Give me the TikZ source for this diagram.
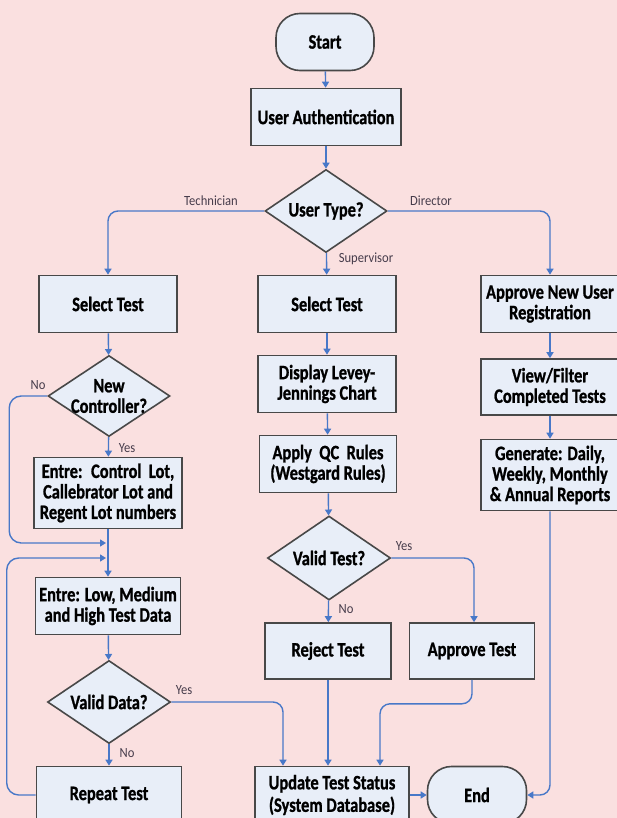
\documentclass[tikz,border=0pt]{standalone}
\usepackage{fontspec}
\usetikzlibrary{shapes.geometric,arrows.meta}
\newfontfamily\carlito[FakeStretch=0.8,BoldFeatures={FakeBold=1}]{Carlito}
\newfontfamily\carlitothin[FakeStretch=0.9]{Carlito}
\newcommand\bxfont{\carlito\bfseries\fontsize{20.5}{20.5}\selectfont}
\newcommand\lbfont{\carlitothin\fontsize{14}{16}\selectfont}
\definecolor{bgpink}{RGB}{250,224,224}
\definecolor{boxfill}{RGB}{232,238,248}
\definecolor{boxline}{RGB}{72,72,72}
\definecolor{flowblue}{RGB}{72,120,200}
\definecolor{lbltext}{RGB}{70,60,75}

\begin{document}
\begin{tikzpicture}[x=1pt,y=-1pt,
    box/.style={draw=boxline,fill=boxfill,line width=1.6pt,minimum width=138pt,minimum height=57pt,align=center,font=\bxfont,inner sep=2pt},
    term/.style={box,rounded corners=24pt,minimum width=98pt},
    dia/.style={diamond,draw=boxline,fill=boxfill,line width=1.6pt,minimum width=122pt,minimum height=83pt,inner sep=0pt},
    dtext/.style={font=\bxfont,align=center},
    flow/.style={draw=flowblue,line width=1.4pt,-{Triangle[length=6pt,width=7pt]},rounded corners=10pt},
    lbl/.style={font=\lbfont,text=lbltext,inner sep=1pt}]
    \useasboundingbox (0,0) rectangle (617,818);
    \fill[bgpink] (0,0) rectangle (617,818);

    \node (start) at (325,42) [term] {Start};
    \node (auth) at (326,117) [box,minimum width=150pt] {User Authentication};
    \node (utype) at (326,211) [dia,label={[dtext]center:User Type?}] {};
    \node (sel1) at (108,304) [box] {Select Test};
    \node (sel2) at (327,304) [box] {Select Test};
    \node (appr) at (550,304) [box] {Approve New User\\Registration};
    \node (newc) at (109,396) [dia,minimum height=81pt,label={[dtext]center:New\\Controller?}] {};
    \node (disp) at (327,384) [box] {Display Levey-\\Jennings Chart};
    \node (view) at (550,387) [box,minimum height=56pt] {View/Filter\\Completed Tests};
    \node (entc) at (108,493) [box,minimum width=148pt,minimum height=71pt] {Entre:~ Control~ Lot,\\Callebrator Lot and\\Regent Lot numbers};
    \node (qc) at (328,464) [box,minimum width=137pt] {Apply~ QC~ Rules\\(Westgard Rules)};
    \node (gen) at (550,475) [box,minimum height=71pt] {Generate: Daily,\\Weekly, Monthly\\\& Annual Reports};
    \node (vtest) at (329,558) [dia,minimum width=123pt,minimum height=84pt,label={[dtext]center:Valid Test?}] {};
    \node (entl) at (108,606) [box,minimum width=145pt] {Entre: Low, Medium\\and High Test Data};
    \node (rej) at (328,651) [box,minimum width=126pt,minimum height=56pt] {Reject Test};
    \node (apt) at (472,651) [box,minimum width=125pt,minimum height=56pt] {Approve Test};
    \node (vdata) at (109,702) [dia,minimum width=123pt,label={[dtext]center:Valid Data?}] {};
    \node (rep) at (109,795) [box,minimum width=145pt] {Repeat Test};
    \node (upd) at (332,795) [box,minimum width=154pt] {Update Test Status\\[2pt](System Database)};
    \node (endn) at (477,795) [term,minimum width=99pt] {End};
    \coordinate (j1) at (106,543);
    \coordinate (j2) at (106,558);

    \node (ltech) at (211,201) [lbl] {Technician};
    \node (ldir) at (431,201) [lbl] {Director};
    \node (lsup) at (366,259) [lbl] {Supervisor};
    \node (lno1) at (38,385) [lbl] {No};
    \node (lyes1) at (127,448) [lbl] {Yes};
    \node (lyes2) at (404,546) [lbl] {Yes};
    \node (lno2) at (346,609) [lbl] {No};
    \node (lyes3) at (184,690) [lbl] {Yes};
    \node (lno3) at (127,753) [lbl] {No};

    \draw[flow] (start) -- (auth);
    \draw[flow] (auth) -- (utype);
    \draw[flow] (utype.west) -| (sel1.north);
    \draw[flow] (utype) -- (sel2);
    \draw[flow] (utype.east) -| (appr.north);
    \draw[flow] (sel1) -- (newc);
    \draw[flow] (newc) -- (entc);
    \draw[flow,rounded corners=12pt] (newc.west) -- ++(-38,0) |- (j1);
    \draw[flow] (entc) -- (entl);
    \draw[flow] (entl) -- (vdata);
    \draw[flow] (vdata) -- (rep);
    \draw[flow,rounded corners=12pt] (rep.west) -- ++(-29,0) |- (j2);
    \draw[flow] (vdata.east) -| ([xshift=-49pt]upd.north);
    \draw[flow] (sel2) -- (disp);
    \draw[flow] (disp) -- (qc);
    \draw[flow] (qc) -- (vtest);
    \draw[flow] (vtest.east) -| ([xshift=2pt]apt.north);
    \draw[flow] (vtest) -- (rej);
    \draw[flow] (rej) -- (rej |- upd.north);
    \draw[flow] (apt.south) -- ++(0,24) -| ([xshift=48pt]upd.north);
    \draw[flow] (upd) -- (endn);
    \draw[flow] (appr) -- (view);
    \draw[flow] (view) -- (gen);
    \draw[flow] (gen.south) |- (endn.east);
\end{tikzpicture}
\end{document}
